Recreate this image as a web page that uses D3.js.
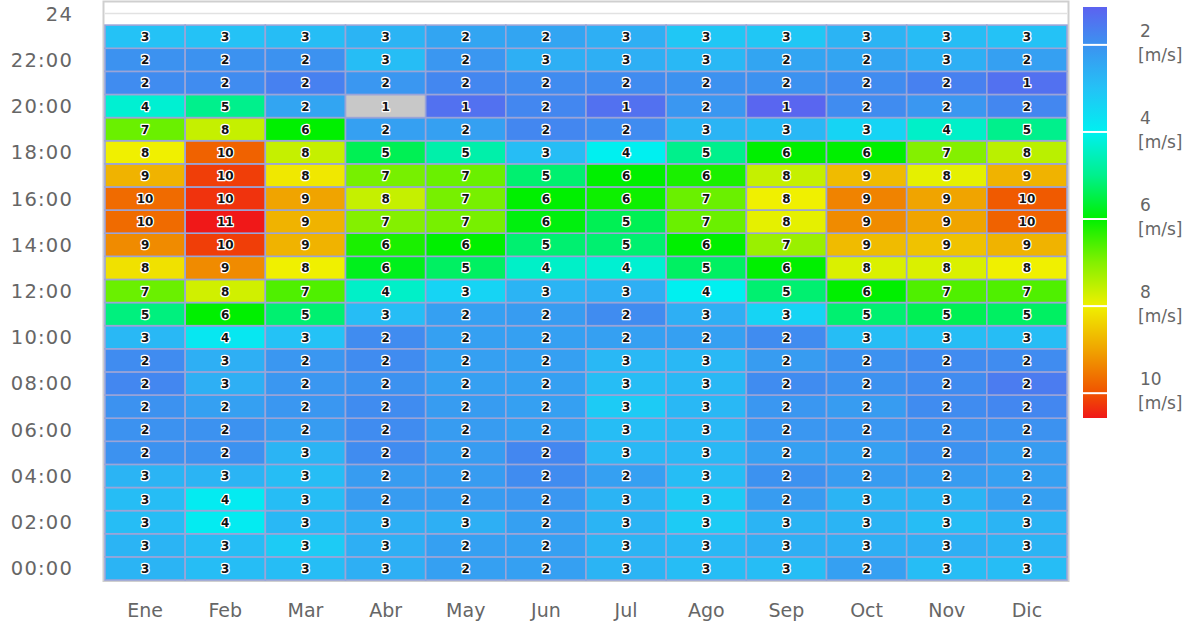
<!DOCTYPE html>
<html><head><meta charset="utf-8">
<script src="https://cdn.jsdelivr.net/npm/d3@7"></script>
<style>
html,body{margin:0;padding:0;background:#fff;}
svg{display:block;}
</style></head>
<body>
<svg id="chart" width="1197" height="626"></svg>
<script>
const months = ["Ene","Feb","Mar","Abr","May","Jun","Jul","Ago","Sep","Oct","Nov","Dic"];
const hourTicks = [0,2,4,6,8,10,12,14,16,18,20,22,24];
const legendTicks = [2,4,6,8,10];
const legendUnit = "[m/s]";
// wind speed [m/s], one array per hour (0..23), values per month
const windByHour = [
  [2.7,2.9,2.9,2.6,2.3,2.3,2.7,2.9,2.9,2.3,2.9,2.9],
  [2.7,2.9,3.2,2.6,2.3,2.3,2.7,2.8,2.6,2.6,2.6,2.7],
  [2.9,3.9,2.8,2.6,2.6,2.3,2.7,3.2,2.7,2.7,2.9,2.7],
  [2.9,3.9,2.9,2.2,2.2,2.1,2.7,3.2,2.2,2.7,2.7,2.3],
  [2.7,2.7,2.9,2.2,2.2,1.9,2.3,2.9,2.0,2.2,2.2,2.3],
  [2.0,2.0,2.7,1.9,2.2,1.8,2.8,2.8,2.3,2.3,2.0,2.2],
  [2.0,2.0,2.2,1.9,2.2,2.3,2.9,2.8,2.1,2.1,2.0,2.0],
  [2.0,2.3,2.1,1.9,2.2,2.3,3.2,2.8,2.1,2.2,1.9,1.8],
  [1.8,2.6,2.1,2.0,2.3,2.3,2.9,2.8,1.9,2.0,1.9,1.6],
  [1.9,2.6,2.1,1.9,2.3,2.3,2.8,2.8,2.2,2.0,1.9,1.9],
  [2.8,3.8,3.0,1.9,2.3,2.3,2.3,2.3,1.9,2.9,2.9,2.9],
  [5.1,6.0,5.2,2.9,2.3,2.2,1.9,2.6,3.4,5.2,5.4,5.3],
  [6.8,7.7,6.6,4.4,3.4,2.7,2.6,4.0,5.2,6.0,6.6,6.6],
  [8.2,9.3,8.0,5.8,5.3,4.4,4.3,5.3,6.0,7.8,7.8,8.0],
  [9.3,10.2,8.8,6.2,6.0,5.2,5.2,6.0,7.2,8.7,8.6,8.8],
  [9.7,10.6,8.8,7.0,6.9,5.9,5.4,6.8,7.9,9.3,9.0,9.8],
  [9.7,10.3,9.0,7.6,6.9,6.0,6.1,6.8,8.0,9.4,9.0,9.9],
  [8.8,10.2,8.1,6.9,6.8,5.2,6.0,6.2,7.6,8.7,7.9,8.8],
  [8.0,9.8,7.6,5.4,4.7,2.9,4.0,5.0,6.0,6.0,7.0,7.5],
  [6.8,7.6,6.0,2.3,2.3,1.8,1.9,2.7,2.8,3.4,4.4,5.0],
  [4.3,5.0,2.4,1.0,1.4,1.8,1.4,2.1,1.2,1.9,2.1,1.8],
  [1.9,1.9,1.7,2.1,1.8,1.9,1.9,2.0,2.0,1.9,1.7,1.4],
  [2.0,2.0,2.0,2.9,2.1,2.6,2.6,2.8,2.4,2.4,2.6,2.3],
  [3.0,3.0,2.9,2.7,2.4,2.4,2.6,3.1,3.1,2.7,2.9,3.0]
];
const colorDomain = [1.13, 2, 3, 4, 5, 6, 7, 8, 9, 10, 10.57];
const colorRange = ["#5c62f0","#3c92f0","#24c2f6","#00f0f0","#00f08c","#00f000","#84f000","#f0f000","#f0a400","#f05200","#f01818"];

const svg = d3.select("#chart");
const L = 105, R = 1067, T = 2, B = 580;
const x = d3.scaleBand().domain(months).range([L, R]).padding(0);
const y = d3.scaleLinear().domain([-0.5, 24.5]).range([B, T]);
const color = d3.scaleLinear().domain(colorDomain).range(colorRange).clamp(true);
const fillFor = v => v < colorDomain[0] ? "#c8c8c8" : color(v);

// frame
svg.append("rect").attr("x", L-1.5).attr("y", T-0.5).attr("width", R-L+3).attr("height", B-T+1.5)
  .attr("fill","#fff").attr("stroke","#cfcfcf").attr("stroke-width",2);
svg.append("line").attr("x1",L).attr("x2",R).attr("y1",y(24)).attr("y2",y(24))
  .attr("stroke","#e2e2e2").attr("stroke-width",1.5);

const cells = [];
windByHour.forEach((row,h)=>row.forEach((v,m)=>cells.push({h, m:months[m], v})));
const rowH = y(0) - y(1);

svg.append("g").selectAll("rect").data(cells).join("rect")
  .attr("x", d=>x(d.m)).attr("y", d=>y(d.h+0.5))
  .attr("width", x.bandwidth()).attr("height", rowH)
  .attr("fill", d=>fillFor(d.v))
  .attr("stroke","#9aa4d8").attr("stroke-width",1.6);

svg.append("g").selectAll("text").data(cells).join("text")
  .attr("x", d=>x(d.m)+x.bandwidth()/2).attr("y", d=>y(d.h)+4.5)
  .attr("text-anchor","middle")
  .attr("font-family","DejaVu Sans").attr("font-weight","bold").attr("font-size",12)
  .attr("fill","#111").attr("stroke","#fff").attr("stroke-width",2.6).attr("paint-order","stroke")
  .attr("stroke-linejoin","round")
  .text(d=>Math.round(d.v));

// y axis labels
svg.append("g").selectAll("text").data(hourTicks).join("text")
  .attr("x", 73).attr("y", d=>y(d)+7)
  .attr("text-anchor","end").attr("font-family","DejaVu Sans").attr("font-size",19.5)
  .attr("fill","#666").attr("letter-spacing",1.2)
  .text(d=> d===24 ? "24" : String(d).padStart(2,"0")+":00");

// x axis labels
svg.append("g").selectAll("text").data(months).join("text")
  .attr("x", d=>x(d)+x.bandwidth()/2).attr("y", 617)
  .attr("text-anchor","middle").attr("font-family","DejaVu Sans").attr("font-size",19)
  .attr("fill","#666")
  .text(d=>d);

// legend
const ly = d3.scaleLinear().domain([colorDomain[0], colorDomain[colorDomain.length-1]]).range([7, 418]);
const defs = svg.append("defs");
const grad = defs.append("linearGradient").attr("id","lg").attr("x1",0).attr("x2",0).attr("y1",0).attr("y2",1);
grad.selectAll("stop").data(colorDomain).join("stop")
  .attr("offset", d=>(ly(d)-7)/(418-7)).attr("stop-color", d=>color(d));
svg.append("rect").attr("x",1083).attr("y",ly.range()[0]).attr("width",24).attr("height",ly.range()[1]-ly.range()[0])
  .attr("fill","url(#lg)");
svg.append("g").selectAll("line").data(legendTicks).join("line")
  .attr("x1",1083).attr("x2",1107).attr("y1",d=>ly(d)).attr("y2",d=>ly(d))
  .attr("stroke","#fff").attr("stroke-width",2);
const lt = svg.append("g").selectAll("text").data(legendTicks).join("text")
  .attr("font-family","DejaVu Sans").attr("font-size",17).attr("fill","#666");
lt.append("tspan").attr("x",1140).attr("y",d=>ly(d)-8).text(d=>d);
lt.append("tspan").attr("x",1138).attr("y",d=>ly(d)+16).text(legendUnit);
</script>
</body></html>
